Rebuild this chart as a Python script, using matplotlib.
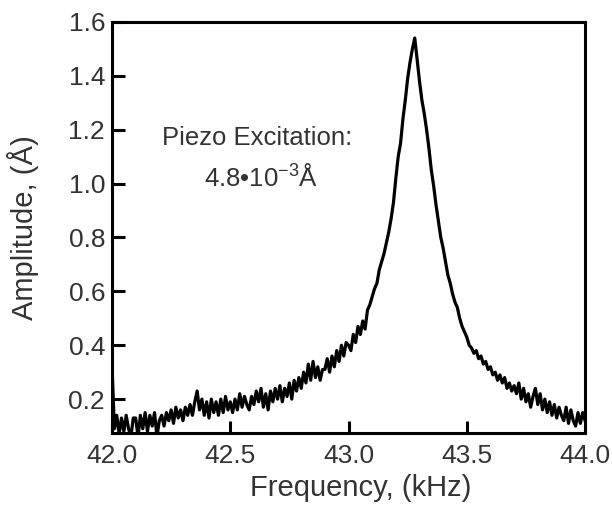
import matplotlib.pyplot as plt
import numpy as np

plt.rcParams['font.family'] = ['Liberation Sans', 'DejaVu Sans']
plt.rcParams['mathtext.fontset'] = 'custom'
plt.rcParams['mathtext.rm'] = 'Liberation Sans'
plt.rcParams['mathtext.it'] = 'Liberation Sans'

# Frequency sweep 42.00 .. 44.00 kHz, 0.01 kHz step (201 samples)
freq = np.linspace(42.0, 44.0, 201)

# Amplitude (Angstrom), one row per 0.1 kHz
amplitude = [
    0.33, 0.09, 0.14, 0.07, 0.13, 0.08, 0.14, 0.09, 0.06, 0.13,   # 42.0
    0.13, 0.06, 0.14, 0.09, 0.15, 0.08, 0.14, 0.10, 0.15, 0.06,   # 42.1
    0.12, 0.14, 0.10, 0.15, 0.12, 0.16, 0.11, 0.17, 0.13, 0.16,   # 42.2
    0.12, 0.17, 0.14, 0.18, 0.14, 0.19, 0.23, 0.16, 0.20, 0.14,   # 42.3
    0.19, 0.13, 0.20, 0.15, 0.19, 0.14, 0.20, 0.15, 0.21, 0.16,   # 42.4
    0.19, 0.15, 0.20, 0.16, 0.22, 0.17, 0.21, 0.18, 0.16, 0.21,   # 42.5
    0.18, 0.23, 0.19, 0.24, 0.17, 0.22, 0.16, 0.23, 0.19, 0.24,   # 42.6
    0.20, 0.25, 0.19, 0.24, 0.21, 0.26, 0.20, 0.27, 0.23, 0.28,   # 42.7
    0.24, 0.30, 0.26, 0.33, 0.27, 0.34, 0.28, 0.32, 0.27, 0.31,   # 42.8
    0.31, 0.35, 0.30, 0.36, 0.32, 0.38, 0.34, 0.40, 0.36, 0.41,   # 42.9
    0.40, 0.38, 0.44, 0.41, 0.47, 0.44, 0.49, 0.46, 0.53, 0.55,   # 43.0
    0.58, 0.61, 0.63, 0.68, 0.71, 0.74, 0.78, 0.82, 0.87, 0.93,   # 43.1
    1.02, 1.10, 1.15, 1.24, 1.31, 1.39, 1.45, 1.50, 1.54, 1.46,   # 43.2
    1.38, 1.31, 1.26, 1.20, 1.13, 1.05, 0.99, 0.92, 0.86, 0.80,   # 43.3
    0.76, 0.71, 0.66, 0.63, 0.59, 0.56, 0.54, 0.50, 0.47, 0.45,   # 43.4
    0.43, 0.40, 0.39, 0.37, 0.38, 0.35, 0.36, 0.33, 0.34, 0.31,   # 43.5
    0.32, 0.29, 0.30, 0.27, 0.29, 0.26, 0.28, 0.24, 0.26, 0.23,   # 43.6
    0.25, 0.22, 0.26, 0.20, 0.24, 0.19, 0.22, 0.17, 0.21, 0.24,   # 43.7
    0.18, 0.22, 0.16, 0.20, 0.15, 0.19, 0.14, 0.18, 0.13, 0.17,   # 43.8
    0.14, 0.12, 0.17, 0.11, 0.16, 0.12, 0.10, 0.15, 0.11, 0.15,   # 43.9
    0.12,                                                         # 44.0
]

x_ticks = [42.0, 42.5, 43.0, 43.5, 44.0]
y_ticks = [0.2, 0.4, 0.6, 0.8, 1.0, 1.2, 1.4, 1.6]

fig = plt.figure(figsize=(6.12, 5.08), dpi=100)
ax = fig.add_axes([0.183, 0.148, 0.773, 0.809])

ax.plot(freq, amplitude, color='black', lw=2.3)

ax.set_xlim(42.0, 44.0)
ax.set_ylim(0.075, 1.6)
ax.set_xticks(x_ticks)
ax.set_xticklabels(['%.1f' % t for t in x_ticks])
ax.set_yticks(y_ticks)
ax.set_yticklabels(['%.1f' % t for t in y_ticks])

for s in ax.spines.values():
    s.set_linewidth(2.2)
ax.tick_params(direction='in', length=9, width=2.2, labelsize=19,
               labelcolor='#333333')
ax.tick_params(axis='x', pad=8)
ax.tick_params(axis='y', pad=5)

ax.set_xlabel('Frequency, (kHz)', fontsize=21, color='#333333', labelpad=1)
ax.xaxis.set_label_coords(0.526, -0.10)
ax.set_ylabel('Amplitude, (Å)', fontsize=21, color='#333333')
ax.yaxis.set_label_coords(-0.155, 0.5)

ax.text(42.614, 1.168, 'Piezo Excitation:', fontsize=18.5, color='#333333',
        ha='center', va='center')
ax.text(42.629, 1.023, '4.8•10$^{-3}$Å', fontsize=18.5, color='#333333',
        ha='center', va='center')

fig.savefig('out.png', dpi=100)
